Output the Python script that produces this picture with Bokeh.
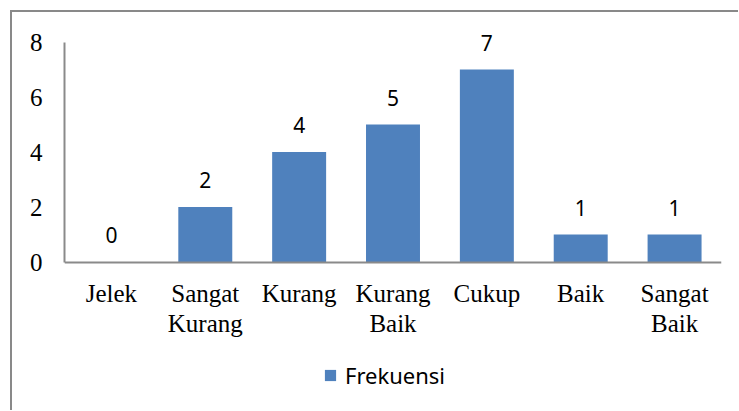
from bokeh.plotting import figure
from bokeh.models import (Range1d, Legend, LegendItem, FixedTicker, ColumnDataSource,
                          CategoricalAxis, CustomJSTickFormatter)
from bokeh.core.properties import value
from bokeh.embed import file_html
from bokeh.resources import INLINE

categories = ["Jelek", "Sangat Kurang", "Kurang", "Kurang Baik", "Cukup", "Baik", "Sangat Baik"]
frekuensi = [0, 2, 4, 5, 7, 1, 1]
label_line1 = ["Jelek", "Sangat", "Kurang", "Kurang", "Cukup", "Baik", "Sangat"]
label_line2 = ["", "Kurang", "", "Baik", "", "", "Baik"]
y_ticks = [0, 2, 4, 6, 8]

src = ColumnDataSource(dict(cat=categories, val=frekuensi, lab=[str(v) for v in frekuensi]))

# frame extends below zero so the legend can sit inside it; axes are pinned at y = 0
p = figure(x_range=categories, y_range=Range1d(-5, 9), frame_width=657, frame_height=385,
           output_backend="svg", toolbar_location=None,
           min_border_left=52, min_border_right=17, min_border_top=2, min_border_bottom=11)
p.styles = {"margin-left": "10px", "margin-top": "10px",
            "border-left": "2px solid #898989", "border-top": "2px solid #898989"}
p.outline_line_color = None
p.xgrid.grid_line_color = None
p.ygrid.grid_line_color = None
p.background_fill_color = "white"
p.border_fill_color = "white"

bars = p.vbar(x="cat", top="val", width=0.575, source=src, fill_color="#4F81BD",
              line_color=None)

p.text(x="cat", y="val", text="lab", source=src, y_offset=-27, text_align="center",
       text_baseline="alphabetic", text_font=value("Noto Sans"), text_font_size="21px",
       text_color="black")

for ax in (p.xaxis[0], p.yaxis[0]):
    ax.axis_line_color = "#8a8a8a"
    ax.axis_line_width = 2
    ax.major_tick_line_color = None
    ax.minor_tick_line_color = None
    ax.major_label_text_font = "Liberation Serif"
    ax.major_label_text_font_size = "25px"
    ax.major_label_text_color = "black"

p.yaxis.ticker = FixedTicker(ticks=y_ticks)
p.yaxis.bounds = (0, 8)
p.yaxis.major_label_standoff = 16
p.xaxis.fixed_location = 0
p.xaxis.major_label_standoff = 12
p.xaxis.formatter = CustomJSTickFormatter(args=dict(names=categories, lines=label_line1),
                                          code="return lines[names.indexOf(tick)];")

ax2 = CategoricalAxis(axis_line_color=None, fixed_location=0,
                      major_tick_line_color=None, minor_tick_line_color=None,
                      major_label_text_font="Liberation Serif", major_label_text_font_size="25px",
                      major_label_text_color="black", major_label_standoff=42)
ax2.formatter = CustomJSTickFormatter(args=dict(names=categories, lines=label_line2),
                                      code="return lines[names.indexOf(tick)];")
p.add_layout(ax2, "below")

legend = Legend(items=[LegendItem(label="Frekuensi", renderers=[bars])], location=(259, 9),
                orientation="horizontal", label_text_font="Noto Sans", label_text_font_size="22px",
                label_text_color="black",
                glyph_width=14, glyph_height=14, border_line_color=None, margin=0, padding=0,
                label_standoff=8, background_fill_alpha=0)
p.add_layout(legend, "center")

open("out.html", "w").write(file_html(p, INLINE))
